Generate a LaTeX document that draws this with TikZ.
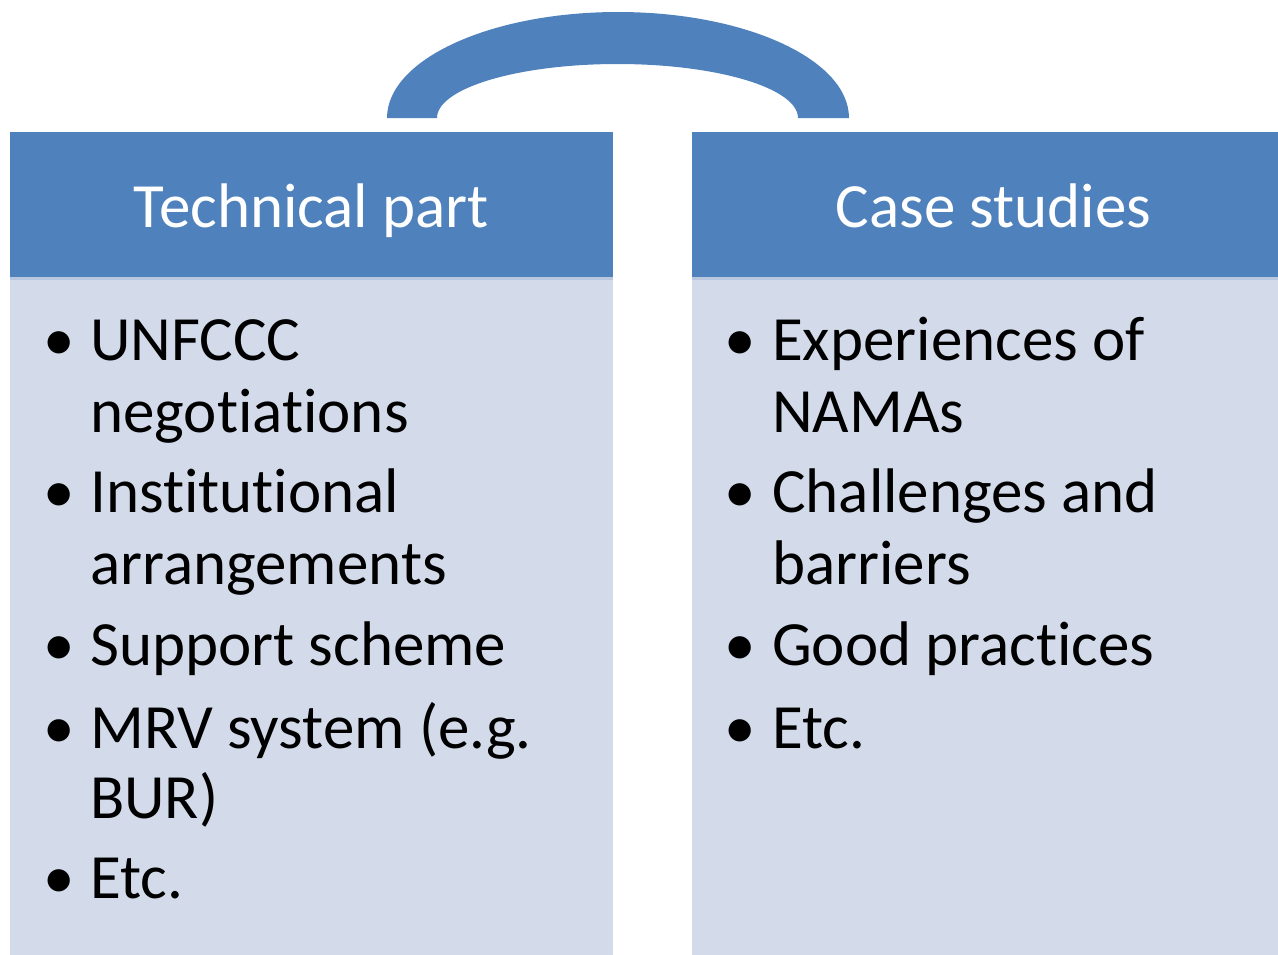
\documentclass[tikz,border=0pt]{standalone}
\usepackage{fontspec}
\setmainfont{Carlito}[Ligatures=NoCommon]
\definecolor{hdr}{HTML}{4F81BD}
\definecolor{bodyc}{HTML}{D3DBEA}
\definecolor{seam}{HTML}{B8C6DE}
\tikzset{
  hdrbox/.style={rectangle, fill=hdr, draw=none, inner sep=0pt, minimum width=603pt, minimum height=145pt},
  bodybox/.style={rectangle, fill=bodyc, draw=none, inner sep=0pt, minimum width=603pt, minimum height=680pt},
  hdrtext/.style={anchor=base, text=white, inner sep=0pt, font=\fontsize{63}{72}\selectfont},
  item/.style={anchor=base west, inner sep=0pt, font=\fontsize{63}{72}\selectfont},
  bul/.style={anchor=base, inner sep=0pt, font=\fontsize{63}{72}\selectfont}
}
\begin{document}
\begin{tikzpicture}[x=1pt,y=-1pt]
\useasboundingbox (0,0) rectangle (1278,954);
\clip (0,0) rectangle (1278,954);
% arc
\fill[hdr] (387,118) arc[start angle=180, end angle=360, x radius=231, y radius=106]
  -- (798,118) arc[start angle=360, end angle=180, x radius=180.5, y radius=54] -- cycle;
% left column
\node[hdrbox, anchor=north west] (lh) at (10,132) {};
\node[bodybox, anchor=north west] (lb) at (10,277) {};
\draw[seam, line width=3pt] (lb.north west) ++(0,1.5) -- ++(603,0);
\node[hdrtext] (lht) at (311.5,227) {Technical part};
% right column
\node[hdrbox, anchor=north west] (rh) at (692,132) {};
\node[bodybox, anchor=north west] (rb) at (692,277) {};
\draw[seam, line width=3pt] (rb.north west) ++(0,1.5) -- ++(603,0);
\node[hdrtext] (rht) at (993.5,227) {Case studies};
% left items
\node[bul] (lb1) at (59,360) {•};
\node[item] (l1a) at (90,360) {UNFCCC};
\node[item] (l1b) at (90,432) {negotiations};
\node[bul] (lb2) at (59,512) {•};
\node[item] (l2a) at (90,512) {Institutional};
\node[item] (l2b) at (90,584) {arrangements};
\node[bul] (lb3) at (59,665) {•};
\node[item] (l3a) at (90,665) {Support scheme};
\node[bul] (lb4) at (59,748) {•};
\node[item] (l4a) at (90,748) {MRV system (e.g.};
\node[item] (l4b) at (90,818) {BUR)};
\node[bul] (lb5) at (59,898) {•};
\node[item] (l5a) at (90,898) {Etc.};
% right items
\node[bul] (rb1) at (740,360) {•};
\node[item] (r1a) at (772,360) {Experiences of};
\node[item] (r1b) at (772,432) {NAMAs};
\node[bul] (rb2) at (740,512) {•};
\node[item] (r2a) at (772,512) {Challenges and};
\node[item] (r2b) at (772,584) {barriers};
\node[bul] (rb3) at (740,665) {•};
\node[item] (r3a) at (772,665) {Good practices};
\node[bul] (rb4) at (740,748) {•};
\node[item] (r4a) at (772,748) {Etc.};
\end{tikzpicture}
\end{document}
